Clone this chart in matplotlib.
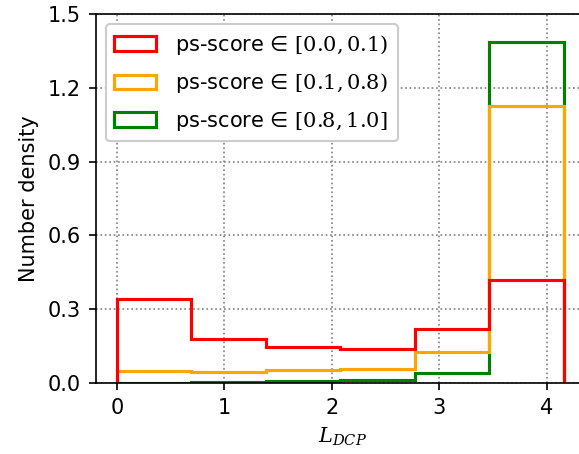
import numpy as np
import matplotlib
matplotlib.use("Agg")
import matplotlib.pyplot as plt

plt.rcParams['mathtext.fontset'] = 'dejavuserif'

bin_edges = np.log(2.0) * np.arange(7)
labels = [r"ps-score ∈ $[0.0, 0.1)$ ",
          r"ps-score ∈ $[0.1, 0.8)$ ",
          r"ps-score ∈ $[0.8, 1.0]$ "]
colors = ["red", "orange", "green"]
red_vals = [0.342, 0.178, 0.148, 0.140, 0.219, 0.418]
orange_vals = [0.049, 0.043, 0.052, 0.056, 0.125, 1.126]
green_vals = [0.002, 0.004, 0.008, 0.012, 0.039, 1.386]
series = [red_vals, orange_vals, green_vals]

fig = plt.figure(figsize=(579/150, 454/150), dpi=150)
ax = fig.add_axes([95.5/579, 1-383/454, (579-95.5)/579 + 0.02, (383-14)/454])
centers = (bin_edges[:-1] + bin_edges[1:]) / 2
ax.hist([centers] * 3, bins=bin_edges, weights=series, histtype='step',
        color=colors, linewidth=1.5, label=labels)
ax.set_xlim(-0.2, 4.41)
ax.set_ylim(0, 1.5)
ax.set_yticks([0, 0.3, 0.6, 0.9, 1.2, 1.5])
ax.set_xticks([0, 1, 2, 3, 4])
ax.grid(True, linestyle=':', color='gray')
ax.set_xlabel(r"$L_{DCP}$")
ax.set_ylabel("Number density")
h, l = ax.get_legend_handles_labels()
ax.legend(h[::-1], l[::-1], loc='upper left', framealpha=1,
          labelspacing=0.7, handletextpad=0.9)
fig.savefig("out.png", dpi=150)
